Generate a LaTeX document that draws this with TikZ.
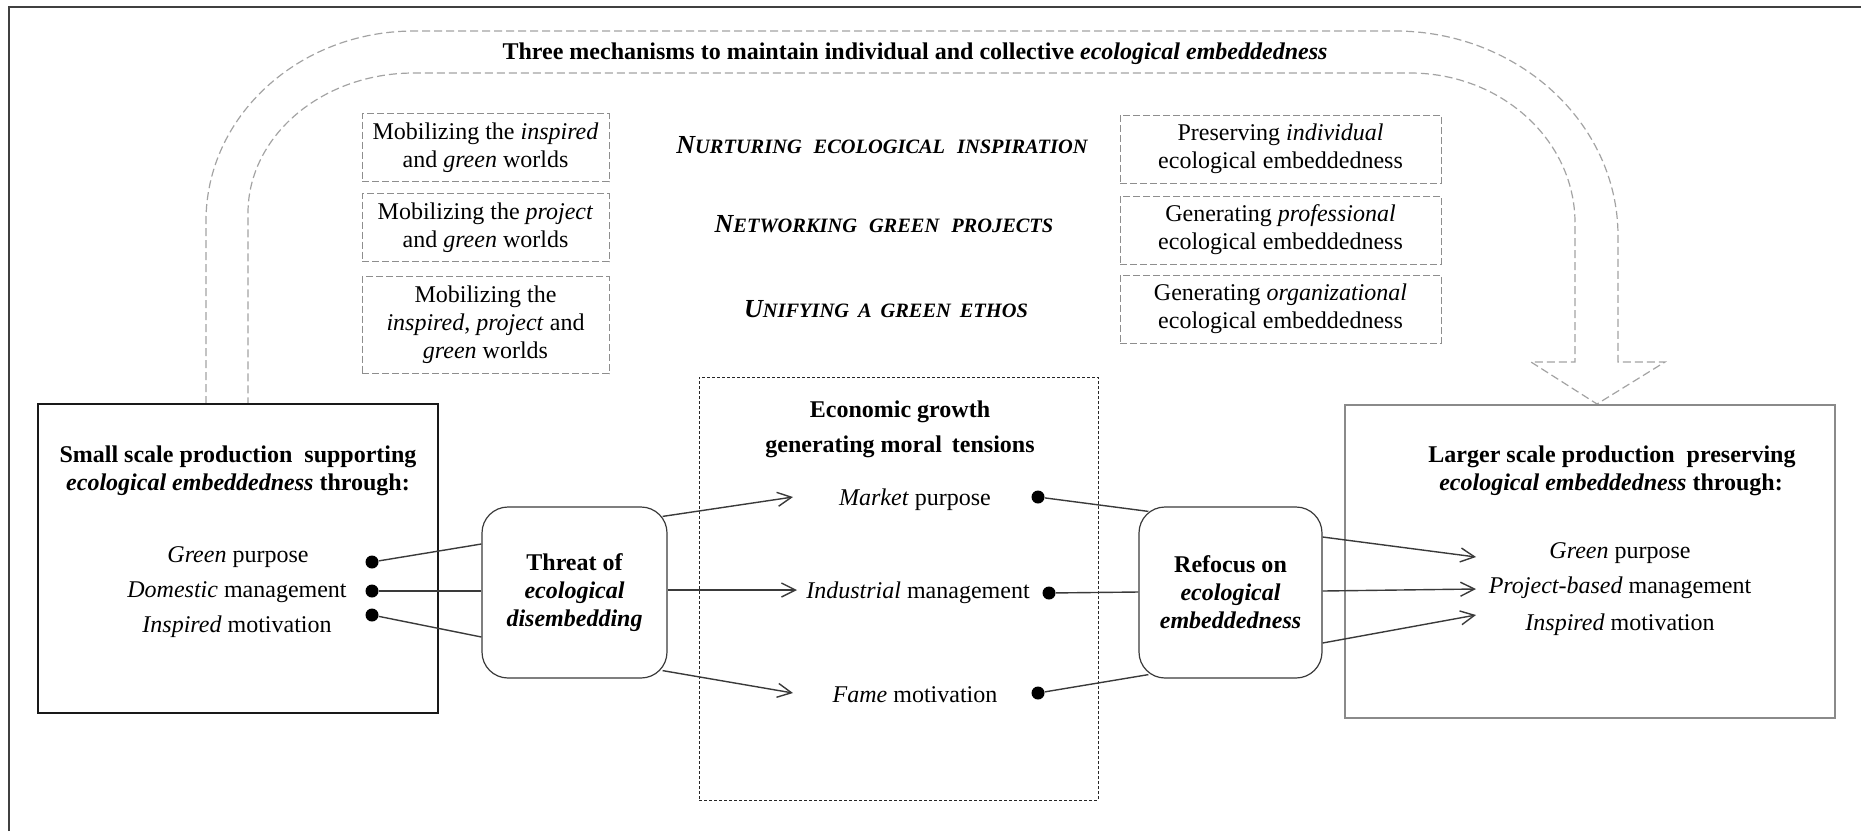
\documentclass[tikz,border=0pt]{standalone}
\usepackage{fontspec}
\setmainfont{Liberation Serif}
\usetikzlibrary{arrows.meta,calc}
\definecolor{framec}{HTML}{404040}
\definecolor{linec}{HTML}{3A3A3A}
\definecolor{dashc}{HTML}{8E8E8E}
\definecolor{arrc}{HTML}{A3A3A3}
\definecolor{rboxc}{HTML}{8A8A8A}
\newcommand\fsc[1]{{\fontsize{10.2}{12}\selectfont #1}}
\newcommand\fcap[1]{{\fontsize{13}{14}\selectfont #1}}
\newcommand\wsp{\hspace{6pt}}
\begin{document}
\begin{tikzpicture}[x=0.5pt,y=-0.5pt,
  font=\fontsize{12}{14}\selectfont,
  dbox/.style={draw=dashc, dash pattern=on 3.5pt off 1.5pt, line width=0.5pt, align=center, inner sep=0pt},
  rnd/.style={draw=linec, rounded corners=13pt, line width=0.6pt, align=center, minimum height=85.5pt, font=\fontsize{12}{14}\selectfont\bfseries},
  txt/.style={anchor=base, inner sep=0pt},
  mech/.style={txt, font=\fontsize{12}{14}\selectfont\bfseries\itshape},
  dotn/.style={circle, fill=black, inner sep=0pt, minimum size=6.5pt},
  conn/.style={draw=linec, line width=0.7pt},
  arr/.style={conn, -{Straight Barb[length=7pt,width=7pt]}},
  bigarr/.style={draw=arrc, dash pattern=on 4pt off 2pt, line width=0.6pt}
]
\useasboundingbox (0,0) rectangle (1861,831);
% frame (cropped)
\draw[framec, line width=1.3pt] (9,831) -- (9,7) -- (1861,7);

% big dashed U-arrow
\draw[bigarr] (206,404) -- (206,221) .. controls (206,116) and (299,31) .. (414,31)
  -- (1395,31) .. controls (1518,31) and (1618,123) .. (1618,236)
  -- (1618,362) -- (1665,362) -- (1597,404) -- (1531,362) -- (1575,362)
  -- (1575,223) .. controls (1575,140) and (1501,73) .. (1410,73)
  -- (414,73) .. controls (322,73) and (248,136) .. (248,213) -- (248,404);

\node[txt] (title) at (915,59) {\textbf{Three mechanisms to maintain individual and collective \textit{ecological embeddedness}}};

% left dashed boxes
\node[dbox, minimum width=123.5pt, minimum height=34pt] (lb1) at (485.5,147.5) {Mobilizing the \textit{inspired}\\and \textit{green} worlds};
\node[dbox, minimum width=123.5pt, minimum height=34pt] (lb2) at (485.5,227.5) {Mobilizing the \textit{project}\\and \textit{green} worlds};
\node[dbox, minimum width=123.5pt, minimum height=48.5pt] (lb3) at (485.5,325) {Mobilizing the\\\textit{inspired}, \textit{project} and\\\textit{green} worlds};

% mechanisms
\node[mech] (m1) at (882,153) {\fcap{N}\fsc{URTURING\wsp ECOLOGICAL\wsp INSPIRATION}};
\node[mech] (m2) at (884,232) {\fcap{N}\fsc{ETWORKING\wsp GREEN\wsp PROJECTS}};
\node[mech] (m3) at (886,317) {\fcap{U}\fsc{NIFYING\hspace{4.5pt}A\hspace{4.5pt}GREEN\hspace{4.5pt}ETHOS}};

% right dashed boxes
\node[dbox, minimum width=160.5pt, minimum height=34pt] (rb1) at (1280.5,149) {Preserving \textit{individual}\\ecological embeddedness};
\node[dbox, minimum width=160.5pt, minimum height=34pt] (rb2) at (1280.5,230) {Generating \textit{professional}\\ecological embeddedness};
\node[dbox, minimum width=160.5pt, minimum height=34pt] (rb3) at (1280.5,309) {Generating \textit{organizational}\\ecological embeddedness};

% left big box
\node[draw=black!90, line width=0.8pt, minimum width=200pt, minimum height=154.5pt, inner sep=0pt] (lbox) at (238,558.5) {};
\node[txt] (lt1) at (238,462) {\textbf{Small scale production\hspace{3pt} supporting}};
\node[txt] (lt2) at (238,490) {\textbf{\textit{ecological embeddedness} through:}};
\node[txt] (lg) at (238,562) {\textit{Green} purpose};
\node[txt] (ld) at (237,597) {\textit{Domestic} management};
\node[txt] (li) at (237,632) {\textit{Inspired} motivation};
\node[dotn] (dl1) at (372,562) {};
\node[dotn] (dl2) at (372,591) {};
\node[dotn] (dl3) at (372,615) {};

% threat box
\node[rnd, minimum width=92.5pt] (threat) at (574.5,592.5) {Threat of\\\textit{ecological}\\\textit{disembedding}};

% middle dashed box
\node[draw=black!85, dash pattern=on 1.5pt off 1pt, line width=0.5pt, minimum width=199.5pt, minimum height=211.5pt, inner sep=0pt] (mbox) at (898.5,588.5) {};
\node[txt] (mt1) at (900,417) {\textbf{Economic growth}};
\node[txt] (mt2) at (900,452) {\textbf{generating moral\hspace{2pt} tensions}};
\node[txt] (mm) at (915,505) {\textit{Market} purpose};
\node[txt] (mi) at (918,598) {\textit{Industrial} management};
\node[txt] (mf) at (915,702) {\textit{Fame} motivation};
\node[dotn] (dm1) at (1038,497) {};
\node[dotn] (dm2) at (1049,593) {};
\node[dotn] (dm3) at (1038,693) {};

% refocus box
\node[rnd, minimum width=91.5pt] (refocus) at (1230.5,592.5) {Refocus on\\\textit{ecological}\\\textit{embeddedness}};

% right big box
\node[draw=rboxc, line width=0.8pt, minimum width=245pt, minimum height=156.5pt, inner sep=0pt] (rbox) at (1590,561.5) {};
\node[txt] (rt1) at (1612,462) {\textbf{Larger scale production\hspace{3pt} preserving}};
\node[txt] (rt2) at (1611,490) {\textbf{\textit{ecological embeddedness} through:}};
\node[txt] (rg) at (1620,558) {\textit{Green} purpose};
\node[txt] (rp) at (1620,593) {\textit{Project-based} management};
\node[txt] (ri) at (1620,630) {\textit{Inspired} motivation};

% arrow tip coordinates
\coordinate (tl1) at (793,497);
\coordinate (tl2) at (797,590);
\coordinate (tl3) at (793,693);
\coordinate (tr1) at (1476,557);
\coordinate (tr2) at (1476,589);
\coordinate (tr3) at (1476,615);

% connectors left -> threat
\draw[conn] (dl1) -- ($(threat.west)+(0,-48.5)$);
\draw[conn] (dl2) -- (threat.west |- dl2);
\draw[conn] (dl3) -- ($(threat.west)+(0,44.5)$);
% threat -> middle
\draw[arr] ($(threat.north east)+(-5,10)$) -- (tl1);
\draw[arr] (threat.east |- tl2) -- (tl2);
\draw[arr] ($(threat.south east)+(-5,-8)$) -- (tl3);
% middle -> refocus
\draw[conn] (dm1) -- ($(refocus.north west)+(10,5)$);
\draw[conn] (dm2) -- ($(refocus.west)+(0,-0.5)$);
\draw[conn] (dm3) -- ($(refocus.south west)+(10,-4)$);
% refocus -> right
\draw[arr] ($(refocus.east)+(0,-55.5)$) -- (tr1);
\draw[arr] ($(refocus.east)+(0,-1.5)$) -- (tr2);
\draw[arr] ($(refocus.east)+(0,50.5)$) -- (tr3);
\end{tikzpicture}
\end{document}
